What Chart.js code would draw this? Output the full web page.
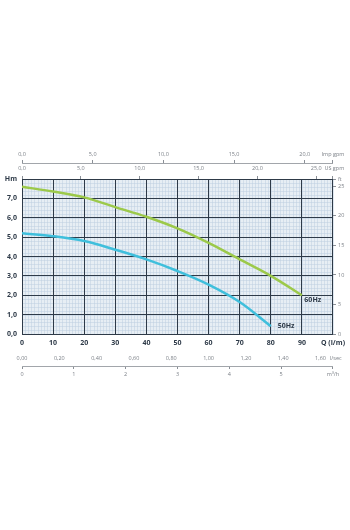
<!DOCTYPE html>
<html>
<head>
<meta charset="utf-8">
<script src="https://cdn.jsdelivr.net/npm/chart.js@4.4.1/dist/chart.umd.min.js"></script>
<style>
  body { margin: 0; background: #fff; }
  #wrap { position: absolute; left: 0; top: 145px; width: 350px; height: 237px; }
</style>
</head>
<body>
<div id="wrap"><canvas id="pumpChart"></canvas></div>
<script>
// curve data (flow l/min -> head m)
const flow60 = [0, 10, 20, 30, 40, 50, 60, 70, 80, 90];
const head60 = [7.6, 7.35, 7.05, 6.55, 6.05, 5.45, 4.7, 3.85, 3.0, 2.0];
const flow50 = [0, 10, 20, 30, 40, 50, 60, 70, 80];
const head50 = [5.2, 5.05, 4.8, 4.35, 3.85, 3.25, 2.55, 1.65, 0.4];

// tick labels of the different unit axes
const lpmTicks = [0, 10, 20, 30, 40, 50, 60, 70, 80, 90];
const headTicks = [0, 1, 2, 3, 4, 5, 6, 7];
const ftTicks = [0, 5, 10, 15, 20, 25];
const lpsTicks = [0, 0.2, 0.4, 0.6, 0.8, 1.0, 1.2, 1.4, 1.6];
const m3hTicks = [0, 1, 2, 3, 4, 5];
const impTicks = [0, 5, 10, 15, 20];
const usTicks = [0, 5, 10, 15, 20, 25];

const Q_MAX = 100, H_MAX = 8;
const IMP_MAX = Q_MAX / 4.546, US_MAX = Q_MAX / 3.785;
const LPS_MAX = Q_MAX / 60, M3H_MAX = Q_MAX * 0.06, FT_MAX = H_MAX * 3.2808;

const navy = '#2e3a48';
const grey = '#7a7f86';
const fam = '"Open Sans", "Liberation Sans", sans-serif';

function comma(v, d) { return v.toFixed(d).replace('.', ','); }
function setTicks(list, last) {
  return s => { s.ticks = list.concat([last]).map(v => ({ value: v })); };
}
function fixW(w) { return s => { s.width = w; }; }
function fixH(h) { return s => { s.height = h; }; }

// light blue paper with the fine grid, major lines come from the axes
const gridBg = {
  id: 'gridBg',
  beforeDraw(chart) {
    const { ctx, chartArea: a, scales: { x, y } } = chart;
    ctx.save();
    ctx.fillStyle = '#e7eef4';
    ctx.fillRect(a.left, a.top, a.right - a.left, a.bottom - a.top);
    ctx.strokeStyle = '#bccfe0';
    ctx.lineWidth = 0.5;
    ctx.beginPath();
    for (let i = 0; i <= 100; i++) {
      const px = Math.round(x.getPixelForValue(i)) + 0.5;
      ctx.moveTo(px, a.top); ctx.lineTo(px, a.bottom);
    }
    for (let i = 0; i <= 40; i++) {
      const py = Math.round(y.getPixelForValue(i * 0.2)) + 0.5;
      ctx.moveTo(a.left, py); ctx.lineTo(a.right, py);
    }
    ctx.stroke();
    ctx.restore();
  }
};

const curveLabels = {
  id: 'curveLabels',
  afterDatasetsDraw(chart) {
    const { ctx, scales: { x, y } } = chart;
    ctx.save();
    ctx.font = 'bold 7px ' + fam;
    ctx.fillStyle = navy;
    ctx.textBaseline = 'middle';
    ctx.fillText('60Hz', x.getPixelForValue(90.8), y.getPixelForValue(1.75));
    ctx.fillText('50Hz', x.getPixelForValue(82.2), y.getPixelForValue(0.4));
    ctx.restore();
  }
};

const smallFont = { family: fam, size: 5.5 };
const thinGrid = { drawOnChartArea: false, tickLength: 3, color: '#8a8f96' };

new Chart(document.getElementById('pumpChart'), {
  type: 'line',
  data: {
    datasets: [
      {
        label: '60Hz',
        data: flow60.map((q, i) => ({ x: q, y: head60[i] })),
        borderColor: '#9cc94a',
        borderWidth: 2.5,
        pointRadius: 0,
        tension: 0.35
      },
      {
        label: '50Hz',
        data: flow50.map((q, i) => ({ x: q, y: head50[i] })),
        borderColor: '#3fbfdc',
        borderWidth: 2.5,
        pointRadius: 0,
        tension: 0.35
      }
    ]
  },
  options: {
    responsive: true,
    maintainAspectRatio: false,
    animation: false,
    layout: { padding: 0 },
    plugins: { legend: { display: false }, tooltip: { enabled: false } },
    scales: {
      x: {
        type: 'linear', position: 'bottom', min: 0, max: Q_MAX, weight: 0,
        afterBuildTicks: setTicks(lpmTicks, Q_MAX), afterFit: fixH(16),
        grid: { color: navy, lineWidth: 1, drawTicks: false },
        border: { color: navy },
        ticks: {
          autoSkip: false, maxRotation: 0, padding: 5, color: navy,
          font: { family: fam, size: 7, weight: 'bold' },
          callback: v => v === Q_MAX ? 'Q (l/m)' : v
        }
      },
      lps: {
        type: 'linear', position: 'bottom', min: 0, max: LPS_MAX, weight: 1,
        afterBuildTicks: setTicks(lpsTicks, LPS_MAX), afterFit: fixH(16),
        grid: { display: false, drawTicks: false }, border: { display: false },
        ticks: {
          autoSkip: false, maxRotation: 0, padding: 5, color: grey, font: smallFont,
          callback: v => v === LPS_MAX ? '\u2002\u2002l/sec' : comma(v, 2)
        }
      },
      m3h: {
        type: 'linear', position: 'bottom', min: 0, max: M3H_MAX, weight: 2,
        afterBuildTicks: setTicks(m3hTicks, M3H_MAX), afterFit: fixH(16),
        grid: thinGrid,
        border: { color: '#8a8f96', width: 0.8 },
        ticks: {
          autoSkip: false, maxRotation: 0, padding: 2, color: grey, font: smallFont,
          callback: v => v === M3H_MAX ? 'm\u00b3/h' : v
        }
      },
      us: {
        type: 'linear', position: 'top', min: 0, max: US_MAX, weight: 0,
        afterBuildTicks: setTicks(usTicks, US_MAX), afterFit: fixH(16),
        grid: thinGrid,
        border: { display: false },
        ticks: {
          autoSkip: false, maxRotation: 0, padding: 4, color: grey, font: smallFont,
          callback: v => v === US_MAX ? '\u2002US gpm' : comma(v, 1)
        }
      },
      imp: {
        type: 'linear', position: 'top', min: 0, max: IMP_MAX, weight: 1,
        afterBuildTicks: setTicks(impTicks, IMP_MAX), afterFit: fixH(18),
        grid: thinGrid,
        border: { color: '#8a8f96', width: 0.8 },
        ticks: {
          autoSkip: false, maxRotation: 0, padding: 2, color: grey, font: smallFont,
          callback: v => v === IMP_MAX ? 'Imp gpm' : comma(v, 1)
        }
      },
      y: {
        type: 'linear', position: 'left', min: 0, max: H_MAX,
        afterBuildTicks: setTicks(headTicks, H_MAX), afterFit: fixW(22),
        grid: { color: navy, lineWidth: 1, drawTicks: false },
        border: { color: navy },
        ticks: {
          autoSkip: false, padding: 5, color: navy,
          font: { family: fam, size: 7, weight: 'bold' },
          callback: v => v === H_MAX ? 'Hm' : comma(v, 1)
        }
      },
      ft: {
        type: 'linear', position: 'right', min: 0, max: FT_MAX,
        afterBuildTicks: setTicks(ftTicks, FT_MAX), afterFit: fixW(15),
        grid: thinGrid,
        border: { display: false },
        ticks: {
          autoSkip: false, padding: 2, color: grey, font: smallFont,
          callback: v => v === FT_MAX ? 'ft' : v
        }
      }
    }
  },
  plugins: [gridBg, curveLabels]
});
</script>
</body>
</html>
